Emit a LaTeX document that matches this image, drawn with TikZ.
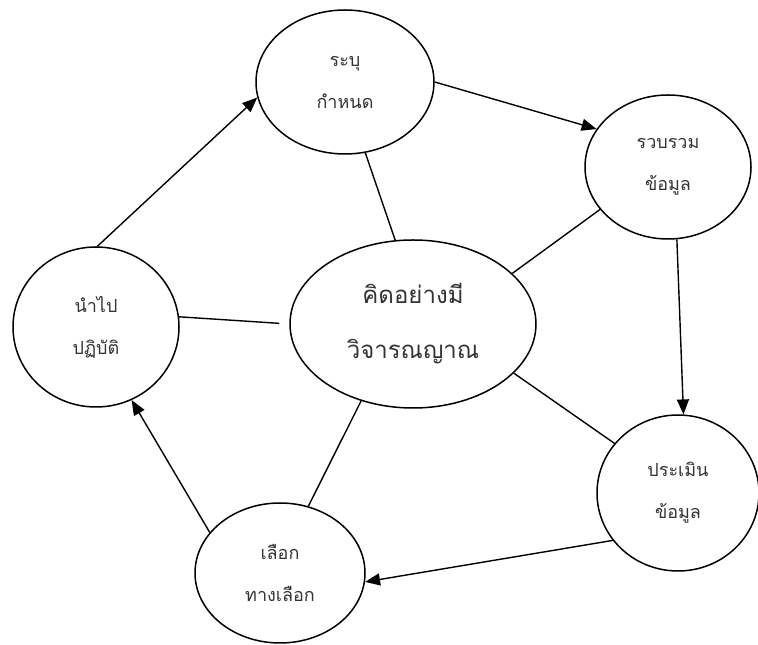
\documentclass[tikz,border=0pt]{standalone}
\usepackage{fontspec}
\newfontfamily\thaifont[Script=Thai]{Loma}
\usetikzlibrary{shapes.geometric,arrows.meta}
\tikzset{
  bubble/.style={ellipse, draw=black, line width=1.5pt, inner sep=0pt, align=center,
    font=\thaifont\fontsize{18}{42}\selectfont, text=black!80},
  bigbubble/.style={bubble, font=\thaifont\fontsize{24}{55}\selectfont},
  link/.style={draw=black, line width=1.4pt},
  flow/.style={link, -{Triangle[length=15pt,width=12pt]}}
}
\begin{document}
\begin{tikzpicture}[x=1pt,y=1pt]
\useasboundingbox (0,0) rectangle (758,645);
\node[bubble, minimum width=178pt, minimum height=144pt] (T) at (345,563) {ระบุ\\กำหนด};
\node[bubble, minimum width=166pt, minimum height=144pt] (R) at (668,478) {รวบรวม\\ข้อมูล};
\node[bigbubble, minimum width=246pt, minimum height=168pt] (C) at (413,321) {คิดอย่างมี\\วิจารณญาณ};
\node[bubble, minimum width=166pt, minimum height=160pt] (L) at (96,318) {นำไป\\ปฏิบัติ};
\node[bubble, minimum width=162pt, minimum height=156pt] (E) at (678,152) {ประเมิน\\ข้อมูล};
\node[bubble, minimum width=170pt, minimum height=140pt] (S) at (280,72) {เลือก\\ทางเลือก};
% cycle arrows
\draw[flow] (T.0) -- (R.152);
\draw[flow] (R.-83) -- (E.86);
\draw[flow] (E.216) -- (S.-6);
\draw[flow] (S.150) -- (L.-64);
\draw[flow] (L.89) -- (T.190);
% spokes
\draw[link] (T.-74) -- (C.102);
\draw[link] (R.212) -- (C.27);
\draw[link, shorten >=10pt] (L.7) -- (C.180);
\draw[link] (C.-26) -- (E.142);
\draw[link] (C.236) -- (S.67);
\end{tikzpicture}
\end{document}
